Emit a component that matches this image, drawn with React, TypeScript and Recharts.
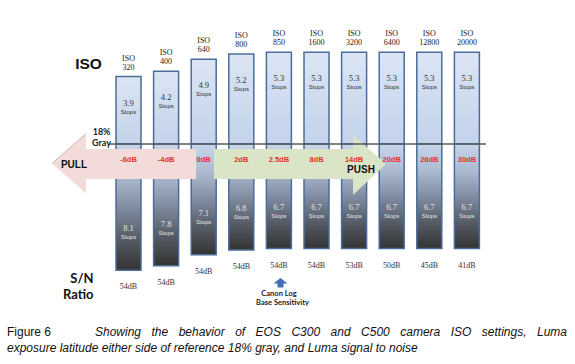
import { ComposedChart, Bar, XAxis, YAxis, LabelList, ReferenceLine } from "recharts";

const isoSettings = ["320", "400", "640", "800", "850", "1600", "3200", "6400", "12800", "20000"];
const stopsOver = [3.9, 4.2, 4.9, 5.2, 5.3, 5.3, 5.3, 5.3, 5.3, 5.3];
const stopsUnder = [8.1, 7.8, 7.1, 6.8, 6.7, 6.7, 6.7, 6.7, 6.7, 6.7];
const gainLabels = ["-6dB", "-4dB", "0dB", "2dB", "2.5dB", "8dB", "14dB", "20dB", "26dB", "30dB"];
const snRatio = ["54dB", "54dB", "54dB", "54dB", "54dB", "54dB", "53dB", "50dB", "45dB", "41dB"];

const data = isoSettings.map((iso, i) => ({
  iso,
  over: stopsOver[i],
  under: -stopsUnder[i],
  gain: gainLabels[i],
  sn: snRatio[i],
}));

const W = 575;
const H = 364;
const ZERO_Y = 144;
const PX_OVER = 17.3;
const PX_UNDER = 15.6;
const margin = { top: 0, right: 89, bottom: 0, left: 110 };
const overDomain = [-(H - ZERO_Y) / PX_OVER, ZERO_Y / PX_OVER];
const underDomain = [-(H - ZERO_Y) / PX_UNDER, ZERO_Y / PX_UNDER];

const SERIF = "'Liberation Serif', 'DejaVu Serif', serif";
const SANS = "'Liberation Sans', Arial, sans-serif";
const CAL = "Lato, 'Open Sans', sans-serif";

const box = (p: any) => {
  const x = Number(p.x), y = Number(p.y), w = Number(p.width), h = Number(p.height);
  return { cx: x + w / 2, top: Math.min(y, y + h), bottom: Math.max(y, y + h) };
};

const IsoLabel = (p: any) => {
  const { cx, top } = box(p);
  return (
    <g fontFamily={SERIF} fontSize={8} fill="#222" textAnchor="middle">
      <text x={cx} y={top - 18.5} dominantBaseline="central">ISO</text>
      <text x={cx} y={top - 9.5} dominantBaseline="central">{p.value}</text>
    </g>
  );
};

const OverStops = (p: any) => {
  const { cx, top } = box(p);
  return (
    <g textAnchor="middle" fill="#333">
      <text x={cx} y={top + 26} fontFamily={SERIF} fontSize={8.5} dominantBaseline="central">{Number(p.value).toFixed(1)}</text>
      <text x={cx} y={top + 35} fontFamily={SANS} fontSize={6} dominantBaseline="central">Stops</text>
    </g>
  );
};

const UnderStops = (p: any) => {
  const { cx, bottom } = box(p);
  return (
    <g textAnchor="middle" fill="#e4e4e4">
      <text x={cx} y={bottom - 42} fontFamily={SERIF} fontSize={8.5} dominantBaseline="central">{Math.abs(Number(p.value)).toFixed(1)}</text>
      <text x={cx} y={bottom - 33} fontFamily={SANS} fontSize={6} dominantBaseline="central">Stops</text>
    </g>
  );
};

const SnLabel = (p: any) => {
  const { cx, bottom } = box(p);
  return (
    <text x={cx} y={bottom + 16.5} fontFamily={SERIF} fontSize={8} fill="#333" textAnchor="middle" dominantBaseline="central">
      {p.value}
    </text>
  );
};

const GainLabel = (p: any) => {
  const { cx, top } = box(p);
  return (
    <text x={cx} y={top + 15.5} fontFamily={SANS} fontSize={7.5} fontWeight="bold" fill="#e2342d" textAnchor="middle" dominantBaseline="central">
      {p.value}
    </text>
  );
};

const layer = (z: number): React.CSSProperties => ({ position: "absolute", left: 0, top: 0, zIndex: z });

const captionLine: React.CSSProperties = {
  position: "absolute",
  fontFamily: SANS,
  fontSize: 12,
  lineHeight: "14px",
  color: "#111",
  whiteSpace: "nowrap",
};

export default function App() {
  return (
    <div style={{ position: "absolute", left: 0, top: 0, width: W, height: H, background: "#fff" }}>
      <div style={layer(1)}>
        <ComposedChart width={W} height={H} data={data} margin={margin} barGap={-25}>
          <defs>
            <linearGradient id="overFill" x1="0" y1="0" x2="0" y2="1">
              <stop offset="0%" stopColor="#dbe5f4" />
              <stop offset="100%" stopColor="#c3d3eb" />
            </linearGradient>
            <linearGradient id="underFill" x1="0" y1="0" x2="0" y2="1">
              <stop offset="0%" stopColor="#c8d6ec" />
              <stop offset="25%" stopColor="#aebcd2" />
              <stop offset="50%" stopColor="#808da2" />
              <stop offset="75%" stopColor="#565c66" />
              <stop offset="100%" stopColor="#333333" />
            </linearGradient>
          </defs>
          <XAxis dataKey="iso" hide />
          <YAxis yAxisId="over" hide domain={overDomain} allowDataOverflow />
          <YAxis yAxisId="under" hide domain={underDomain} allowDataOverflow />
          <Bar yAxisId="over" dataKey="over" barSize={25} fill="url(#overFill)" stroke="#4b6d99" strokeWidth={1.5} isAnimationActive={false}>
            <LabelList dataKey="iso" content={IsoLabel} />
            <LabelList dataKey="over" content={OverStops} />
          </Bar>
          <Bar yAxisId="under" dataKey="under" barSize={25} fill="url(#underFill)" stroke="#4b6d99" strokeWidth={1.5} isAnimationActive={false}>
            <LabelList dataKey="under" content={UnderStops} />
            <LabelList dataKey="sn" content={SnLabel} />
          </Bar>
        </ComposedChart>
      </div>

      <svg width={W} height={H} style={layer(2)}>
        {/* PULL / PUSH arrows */}
        <polygon points="52,163.5 86,133.5 86,149 196,149 196,179 86,179 86,193.5" fill="#f3dbda" />
        <line x1={52} y1={163.5} x2={86} y2={133.5} stroke="#9a9a9a" strokeWidth={0.6} />
        <polygon points="214,149 353,149 353,135 386,164 353,195 353,179 214,179" fill="#d9e5c6" />
        <text x={74} y={164.5} fontFamily={SANS} fontSize={10} fontWeight="bold" fill="#111" textAnchor="middle" dominantBaseline="central">PULL</text>
        <text x={361} y={169.5} fontFamily={SANS} fontSize={10} fontWeight="bold" fill="#111" textAnchor="middle" dominantBaseline="central">PUSH</text>

        <text x={88.5} y={63} fontFamily={SANS} fontSize={15.5} fontWeight="bold" fill="#111" textAnchor="middle" dominantBaseline="central">ISO</text>
        <g fontFamily={CAL} fontSize={9} fontWeight="bold" fill="#222" textAnchor="end">
          <text x={110.5} y={131.5} dominantBaseline="central">18%</text>
          <text x={111} y={142.5} dominantBaseline="central">Gray</text>
        </g>
        <g fontFamily={CAL} fontSize={13} fontWeight="bold" fill="#111" textAnchor="end">
          <text x={93.5} y={277.5} dominantBaseline="central">S/N</text>
          <text x={93.5} y={293.5} dominantBaseline="central">Ratio</text>
        </g>

        {/* Canon Log marker */}
        <polygon points="280.5,278 287.5,283.5 283.5,283.5 283.5,287.5 277.5,287.5 277.5,283.5 273.5,283.5" fill="#3f6fb6" />
        <g fontFamily={CAL} fontSize={7.5} fontWeight="bold" fill="#222" textAnchor="middle">
          <text x={279} y={293.5} dominantBaseline="central">Canon Log</text>
          <text x={282.5} y={302.5} dominantBaseline="central">Base Sensitivity</text>
        </g>
      </svg>

      {/* caption */}
      <div style={{ ...captionLine, left: 7, top: 325 }}>Figure 6</div>
      <div style={{ ...captionLine, left: 95, top: 325, width: 472, fontStyle: "italic", textAlign: "justify", textAlignLast: "justify", whiteSpace: "normal" }}>
        Showing the behavior of EOS C300 and C500 camera ISO settings, Luma
      </div>
      <div style={{ ...captionLine, left: 7, top: 341, fontStyle: "italic" }}>
        exposure latitude either side of reference 18% gray, and Luma signal to noise
      </div>

      <div style={layer(3)}>
        <ComposedChart width={W} height={H} data={data} margin={margin}>
          <XAxis dataKey="iso" hide />
          <YAxis yAxisId="under" hide domain={underDomain} allowDataOverflow />
          <ReferenceLine yAxisId="under" y={0} stroke="#5a5a5a" strokeWidth={1.5} />
          <Bar yAxisId="under" dataKey="under" barSize={25} fill="none" stroke="none" isAnimationActive={false}>
            <LabelList dataKey="gain" content={GainLabel} />
          </Bar>
        </ComposedChart>
      </div>
    </div>
  );
}
